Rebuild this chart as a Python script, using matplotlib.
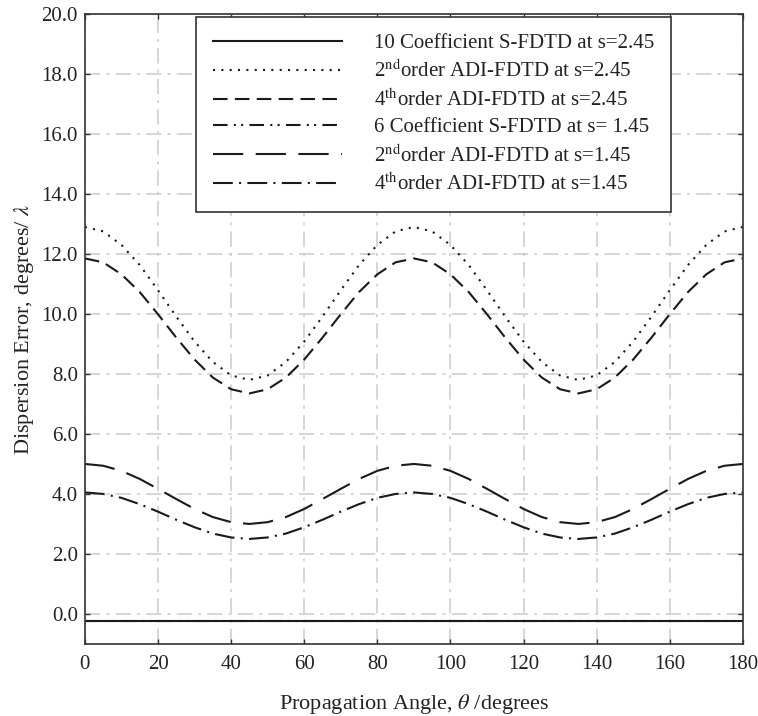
import matplotlib
matplotlib.use("Agg")
import matplotlib.pyplot as plt
import numpy as np

plt.rcParams['font.family'] = ['Liberation Serif', 'DejaVu Serif']
plt.rcParams['mathtext.fontset'] = 'stix'

angles = list(range(0, 181, 5))

# values (0..45 deg, mirrored 45..90, repeated)
q_2nd_245 = [12.90, 12.75, 12.30, 11.63, 10.79, 9.91, 9.08, 8.40, 7.95, 7.80]
q_4th_245 = [11.85, 11.72, 11.32, 10.73, 9.99, 9.21, 8.48, 7.88, 7.49, 7.35]
q_2nd_145 = [5.00, 4.94, 4.77, 4.50, 4.17, 3.83, 3.50, 3.23, 3.06, 3.00]
q_4th_145 = [4.05, 4.00, 3.87, 3.66, 3.41, 3.14, 2.89, 2.68, 2.55, 2.50]

def full(q):
    half = q + q[-2::-1]          # 0..90
    return half + half[1:]        # 0..180

adi2_245 = full(q_2nd_245)
adi4_245 = full(q_4th_245)
adi2_145 = full(q_2nd_145)
adi4_145 = full(q_4th_145)
sfdtd10_245 = [-0.22] * len(angles)
sfdtd6_145 = [-0.22] * len(angles)

labels = [
    "10 Coefficient S-FDTD at s=2.45",
    r"2$^{\rm nd}$order ADI-FDTD at s=2.45",
    r"4$^{\rm th}$order ADI-FDTD at s=2.45",
    "6 Coefficient S-FDTD at s= 1.45",
    r"2$^{\rm nd}$order ADI-FDTD at s=1.45",
    r"4$^{\rm th}$order ADI-FDTD at s=1.45",
]
series = [sfdtd10_245, adi2_245, adi4_245, sfdtd6_145, adi2_145, adi4_145]
styles = ['-', (0, (1, 3)), (0, (7, 3.5)), (0, (7, 3, 1, 2.5, 1, 3)),
          (0, (14.5, 6)), (0, (9.5, 3, 1, 3))]

fig = plt.figure(figsize=(7.58, 7.16), dpi=100)
ax = fig.add_axes([0.112, 0.1006, 0.868, 0.880])

for s, ls, lab in zip(series, styles, labels):
    ax.plot(angles, s, color='#1a1a1a', linestyle=ls, linewidth=1.5, label=lab)

ax.set_xlim(0, 180)
ax.set_ylim(-1, 20)
ax.set_xticks(range(0, 181, 20))
ax.set_yticks(np.arange(0, 20.1, 2))
ax.set_yticklabels([f"{v:.1f}" for v in np.arange(0, 20.1, 2)])
ax.tick_params(direction='in', top=True, right=True, labelsize=15, length=3.5,
               width=1.0, color='#333333', labelcolor='#222222')
ax.tick_params(axis='x', pad=8)
ax.tick_params(axis='y', pad=5)
ax.grid(True, color='#cccccc', linestyle=(0, (10, 4, 2, 4)), linewidth=1.1)
for sp in ax.spines.values():
    sp.set_linewidth(1.2)
    sp.set_color('#333333')

ax.set_xlabel(r"Propagation Angle, $\theta$ /degrees", fontsize=16, labelpad=13,
              color='#222222')
ax.set_ylabel(r"Dispersion Error, degrees/ $\lambda$", fontsize=16, labelpad=4,
              color='#222222')

leg = ax.legend(loc='upper left', bbox_to_anchor=(0.1687, 0.9952), fontsize=15,
                handlelength=6.2, handletextpad=1.55, fancybox=False,
                edgecolor='#333333', framealpha=1, borderpad=0.8,
                labelspacing=0.33, borderaxespad=0)
leg.get_frame().set_linewidth(1.2)
for t in leg.get_texts():
    t.set_color('#222222')

fig.savefig("out.png", dpi=100)
